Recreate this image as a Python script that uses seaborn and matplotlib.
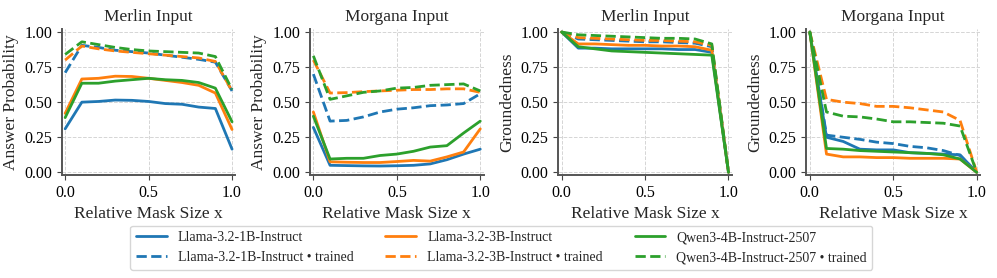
import numpy as np
import pandas as pd
import matplotlib.pyplot as plt
import seaborn as sns

sns.set_style("ticks")
plt.rcParams['font.family'] = ['Liberation Serif', 'DejaVu Serif']

x = [0.0, 0.1, 0.2, 0.3, 0.4, 0.5, 0.6, 0.7, 0.8, 0.9, 1.0]
models = ["Llama-3.2-1B-Instruct", "Llama-3.2-3B-Instruct", "Qwen3-4B-Instruct-2507"]
colors = ["#1f77b4", "#ff7f0e", "#2ca02c"]

# Answer probability, Merlin input
ap_merlin = {
    "Llama-3.2-1B-Instruct": [0.31, 0.50, 0.505, 0.515, 0.513, 0.505, 0.49, 0.485, 0.465, 0.455, 0.165],
    "Llama-3.2-3B-Instruct": [0.42, 0.665, 0.67, 0.685, 0.683, 0.67, 0.655, 0.64, 0.62, 0.565, 0.305],
    "Qwen3-4B-Instruct-2507": [0.39, 0.635, 0.635, 0.65, 0.66, 0.67, 0.66, 0.655, 0.64, 0.60, 0.36],
}
ap_merlin_tr = {
    "Llama-3.2-1B-Instruct": [0.71, 0.905, 0.89, 0.87, 0.86, 0.85, 0.835, 0.82, 0.805, 0.785, 0.58],
    "Llama-3.2-3B-Instruct": [0.80, 0.90, 0.88, 0.865, 0.855, 0.845, 0.835, 0.825, 0.815, 0.79, 0.58],
    "Qwen3-4B-Instruct-2507": [0.84, 0.93, 0.91, 0.89, 0.875, 0.865, 0.86, 0.855, 0.85, 0.825, 0.59],
}
# Answer probability, Morgana input
ap_morgana = {
    "Llama-3.2-1B-Instruct": [0.32, 0.05, 0.048, 0.046, 0.045, 0.047, 0.05, 0.06, 0.09, 0.13, 0.165],
    "Llama-3.2-3B-Instruct": [0.43, 0.075, 0.072, 0.07, 0.07, 0.077, 0.085, 0.08, 0.11, 0.145, 0.31],
    "Qwen3-4B-Instruct-2507": [0.40, 0.095, 0.10, 0.10, 0.12, 0.13, 0.15, 0.18, 0.19, 0.28, 0.365],
}
ap_morgana_tr = {
    "Llama-3.2-1B-Instruct": [0.70, 0.365, 0.37, 0.395, 0.43, 0.45, 0.46, 0.475, 0.48, 0.49, 0.56],
    "Llama-3.2-3B-Instruct": [0.80, 0.565, 0.568, 0.575, 0.58, 0.585, 0.59, 0.59, 0.595, 0.595, 0.57],
    "Qwen3-4B-Instruct-2507": [0.83, 0.52, 0.545, 0.57, 0.58, 0.60, 0.605, 0.62, 0.625, 0.63, 0.58],
}
# Groundedness, Merlin input
gr_merlin = {
    "Llama-3.2-1B-Instruct": [1.0, 0.885, 0.885, 0.88, 0.88, 0.88, 0.88, 0.875, 0.875, 0.855, 0.0],
    "Llama-3.2-3B-Instruct": [1.0, 0.915, 0.915, 0.91, 0.905, 0.905, 0.90, 0.90, 0.895, 0.87, 0.0],
    "Qwen3-4B-Instruct-2507": [1.0, 0.895, 0.88, 0.865, 0.86, 0.855, 0.85, 0.845, 0.84, 0.835, 0.0],
}
gr_merlin_tr = {
    "Llama-3.2-1B-Instruct": [1.0, 0.95, 0.945, 0.94, 0.935, 0.93, 0.93, 0.925, 0.92, 0.895, 0.0],
    "Llama-3.2-3B-Instruct": [1.0, 0.96, 0.955, 0.95, 0.945, 0.94, 0.94, 0.935, 0.93, 0.905, 0.0],
    "Qwen3-4B-Instruct-2507": [1.0, 0.98, 0.975, 0.97, 0.965, 0.96, 0.955, 0.955, 0.95, 0.915, 0.0],
}
# Groundedness, Morgana input
gr_morgana = {
    "Llama-3.2-1B-Instruct": [1.0, 0.25, 0.22, 0.165, 0.16, 0.16, 0.14, 0.135, 0.13, 0.125, 0.0],
    "Llama-3.2-3B-Instruct": [1.0, 0.13, 0.11, 0.11, 0.105, 0.105, 0.10, 0.10, 0.10, 0.095, 0.0],
    "Qwen3-4B-Instruct-2507": [1.0, 0.17, 0.165, 0.155, 0.15, 0.145, 0.14, 0.135, 0.125, 0.095, 0.0],
}
gr_morgana_tr = {
    "Llama-3.2-1B-Instruct": [1.0, 0.265, 0.25, 0.235, 0.215, 0.205, 0.185, 0.175, 0.155, 0.12, 0.0],
    "Llama-3.2-3B-Instruct": [1.0, 0.52, 0.50, 0.49, 0.47, 0.47, 0.46, 0.445, 0.43, 0.37, 0.0],
    "Qwen3-4B-Instruct-2507": [1.0, 0.43, 0.40, 0.395, 0.38, 0.36, 0.36, 0.355, 0.35, 0.33, 0.0],
}

panels = [
    ("Merlin Input", "Answer Probability", ap_merlin, ap_merlin_tr),
    ("Morgana Input", "Answer Probability", ap_morgana, ap_morgana_tr),
    ("Merlin Input", "Groundedness", gr_merlin, gr_merlin_tr),
    ("Morgana Input", "Groundedness", gr_morgana, gr_morgana_tr),
]

fig, axes = plt.subplots(1, 4, figsize=(9.97, 2.78), dpi=100)
fig.subplots_adjust(left=0.062, right=0.983, top=0.895, bottom=0.37, wspace=0.43)

for ax, (title, ylabel, base, trained) in zip(axes, panels):
    for m, c in zip(models, colors):
        sns.lineplot(x=x, y=base[m], ax=ax, color=c, lw=2, label=m)
        sns.lineplot(x=x, y=trained[m], ax=ax, color=c, lw=2, ls="--",
                     label=m + " \u2022 trained")
    ax.set_title(title, fontsize=12.5)
    ax.set_ylabel(ylabel, fontsize=12.5)
    ax.set_xlabel("Relative Mask Size x", fontsize=12.5)
    ax.set_xlim(-0.02, 1.02)
    ax.set_ylim(-0.02, 1.02)
    ax.set_xticks([0, 0.5, 1.0])
    ax.set_yticks([0, 0.25, 0.5, 0.75, 1.0])
    ax.tick_params(labelsize=11.5, colors="#444444", labelcolor="black")
    ax.grid(True, ls="--", lw=0.7, color="#d5d5d5")
    for s in ("left", "bottom"):
        ax.spines[s].set_color("#555555")
        ax.spines[s].set_linewidth(1.4)
    sns.despine(ax=ax)
    ax.get_legend().remove()

handles, labels = axes[0].get_legend_handles_labels()
fig.legend(handles, labels, loc="lower center", ncol=3, fontsize=10,
           bbox_to_anchor=(0.503, 0.005), columnspacing=2.3, handlelength=2.2,
           frameon=True, edgecolor="#cccccc")

plt.savefig("out.png", dpi=100)
